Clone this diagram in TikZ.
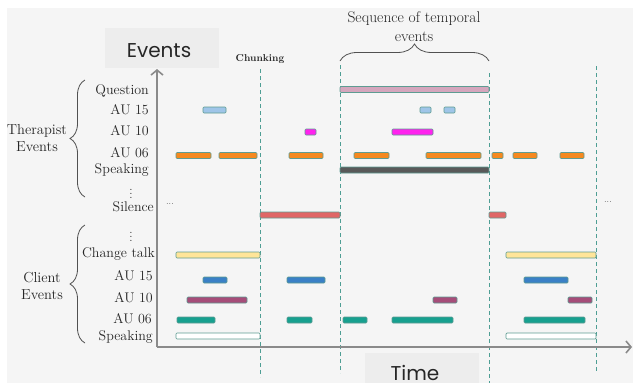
\documentclass[tikz,border=0pt]{standalone}
\usepackage{fontspec}
\newfontfamily\labsans{Poppins}
\usetikzlibrary{arrows.meta,decorations.pathreplacing}
\definecolor{bgc}{HTML}{F5F5F5}
\definecolor{boxc}{HTML}{EDEDED}
\definecolor{axc}{HTML}{8A8A8A}
\definecolor{dashc}{HTML}{4E9E94}
\definecolor{edgec}{HTML}{5E9C92}
\definecolor{cpink}{HTML}{D5A6BD}
\definecolor{clblue}{HTML}{9FC5E8}
\definecolor{cmag}{HTML}{FF22EE}
\definecolor{corange}{HTML}{F5891F}
\definecolor{cdark}{HTML}{595959}
\definecolor{cred}{HTML}{E06666}
\definecolor{cyel}{HTML}{FFE599}
\definecolor{cblue}{HTML}{3A80C6}
\definecolor{cmaroon}{HTML}{A64D79}
\definecolor{cteal}{HTML}{17A08F}
\definecolor{txtc}{HTML}{262626}
\newcommand\evbar[4]{\draw[evbarstyle,fill=#1] (#2,#4-3) rectangle (#3,#4+3);}
\tikzset{
  evbarstyle/.style={draw=edgec,line width=0.7pt,rounded corners=1pt},
  rowlab/.style={anchor=base east,font=\fontsize{14}{16}\selectfont,text=txtc,inner sep=0pt},
  grouplab/.style={align=center,font=\fontsize{14.5}{17}\selectfont,text=txtc,inner sep=0pt},
  chunkline/.style={draw=dashc,line width=0.8pt,dash pattern=on 4pt off 3pt},
  axisline/.style={draw=axc,line width=1.6pt,-{Straight Barb[length=5pt,width=12pt]}},
  bracestyle/.style={draw=txtc!80,line width=0.8pt,decorate},
}
\begin{document}
\begin{tikzpicture}[x=1pt,y=-1pt]
\useasboundingbox (0,0) rectangle (633,383);
\fill[white] (0,0) rectangle (633,383);
\fill[bgc] (7,8) rectangle (633,383);
% label boxes
\fill[boxc] (105,28) rectangle (219,68);
\node[font=\labsans\fontsize{20}{22}\selectfont,text=txtc,anchor=base] (evlab) at (159,57) {Events};
\fill[boxc] (365,353) rectangle (479,383);
\node[font=\labsans\fontsize{20}{22}\selectfont,text=txtc,anchor=base] (timelab) at (415,380) {Time};
% chunk lines
\coordinate (c1t) at (260,69); \coordinate (c1b) at (260,377);
\coordinate (c2t) at (340,65); \coordinate (c2b) at (340,373);
\coordinate (c3t) at (489,73); \coordinate (c3b) at (489,383);
\coordinate (c4t) at (596,66); \coordinate (c4b) at (596,373);
\draw[chunkline] (c1t) -- (c1b);
\draw[chunkline] (c2t) -- (c2b);
\draw[chunkline] (c3t) -- (c3b);
\draw[chunkline] (c4t) -- (c4b);
\node[font=\bfseries\fontsize{10}{11}\selectfont,text=txtc] (chunk) at (260,59) {Chunking};
% sequence brace
\coordinate (sbl) at (340,61); \coordinate (sbr) at (489,61);
\draw[bracestyle,decoration={brace,amplitude=17pt,aspect=0.5}] (sbl) -- (sbr);
\node[grouplab,font=\fontsize{15.5}{19}\selectfont] (seq) at (414,27) {Sequence of temporal\\events};
% axes
\coordinate (O) at (157,347);
\coordinate (ytip) at (157,69);
\coordinate (xtip) at (632,347);
\draw[axisline] (O) -- (ytip);
\draw[axisline] (O) -- (xtip);
% row labels
\node[rowlab] (lq) at (149,94) {Question};
\node[rowlab] (lt15) at (149,114) {AU 15};
\node[rowlab] (lt10) at (149,135) {AU 10};
\node[rowlab] (lt06) at (149,157) {AU 06};
\node[rowlab] (lts) at (149,173) {Speaking};
\node[text=txtc,font=\fontsize{12}{14}\selectfont,inner sep=0pt] (td) at (131,191) {$\vdots$};
\node[rowlab] (lsil) at (154,211) {Silence};
\node[text=txtc,font=\fontsize{12}{14}\selectfont,inner sep=0pt] (cd) at (131,234) {$\vdots$};
\node[rowlab] (lct) at (155,257) {Change talk};
\node[rowlab] (lc15) at (153,280) {AU 15};
\node[rowlab] (lc10) at (153,302) {AU 10};
\node[rowlab] (lc06) at (152,323) {AU 06};
\node[rowlab] (lcs) at (153,340) {Speaking};
\node[text=txtc,font=\small,inner sep=0pt] (dl) at (170,204) {...};
\node[text=txtc,font=\small,inner sep=0pt] (dr) at (608,202) {...};
% group braces
\coordinate (tb1) at (85,197); \coordinate (tb2) at (85,80);
\draw[bracestyle,decoration={brace,amplitude=15pt,aspect=0.5}] (tb1) -- (tb2);
\node[grouplab] (tev) at (37,138.5) {Therapist\\Events};
\coordinate (cb1) at (85,343); \coordinate (cb2) at (85,225);
\draw[bracestyle,decoration={brace,amplitude=15pt,aspect=0.5}] (cb1) -- (cb2);
\node[grouplab] (cev) at (42,285.5) {Client\\Events};
% therapist bars
\evbar{cpink}{340}{489}{89.5}
\evbar{clblue}{203}{226}{110}
\evbar{clblue}{420}{431}{110}
\evbar{clblue}{444}{455}{110}
\evbar{cmag}{305}{316}{132}
\evbar{cmag}{392}{433}{132}
\evbar{corange}{176}{211}{155.5}
\evbar{corange}{219}{257}{155.5}
\evbar{corange}{289}{323}{155.5}
\evbar{corange}{354}{389}{155.5}
\evbar{corange}{426}{481}{155.5}
\evbar{corange}{492}{503}{155.5}
\evbar{corange}{513}{537}{155.5}
\evbar{corange}{560}{584}{155.5}
\evbar{cdark}{340}{489}{170}
% silence
\evbar{cred}{260}{340}{215}
\evbar{cred}{489}{506}{215}
% client bars
\evbar{cyel}{176}{260}{255}
\evbar{cyel}{506}{596}{255}
\evbar{cblue}{203}{227}{280}
\evbar{cblue}{287}{325}{280}
\evbar{cblue}{524}{568}{280}
\evbar{cmaroon}{187}{247}{300}
\evbar{cmaroon}{433}{457}{300}
\evbar{cmaroon}{568}{592}{300}
\evbar{cteal}{177}{215}{320}
\evbar{cteal}{287}{312}{320}
\evbar{cteal}{343}{367}{320}
\evbar{cteal}{392}{453}{320}
\evbar{cteal}{524}{585}{320}
\evbar{white}{176}{260}{336}
\evbar{white}{506}{596}{336}
\end{tikzpicture}
\end{document}
